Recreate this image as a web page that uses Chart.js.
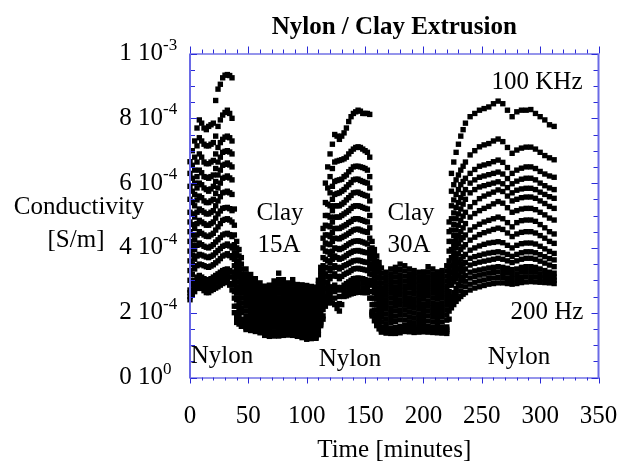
<!DOCTYPE html>
<html>
<head>
<meta charset="utf-8">
<style>
html, body { margin: 0; padding: 0; background: #fff; }
canvas { display: block; }
</style>
<script src="https://cdn.jsdelivr.net/npm/chart.js@4"></script>
</head>
<body>
<canvas id="cond-chart" width="619" height="463"></canvas>
<script>
// values are in units of 1e-6 S/m, one row per 40 minutes
const times = [
  0,4,8,12,16,20,24,28,32,36,
  40,44,48,52,56,60,64,68,72,76,
  80,84,88,92,96,100,104,108,112,116,
  120,124,128,132,136,140,144,148,152,156,
  160,164,168,172,176,180,184,188,192,196,
  200,204,208,212,216,220,224,228,232,236,
  240,244,248,252,256,260,264,268,272,276,
  280,284,288,292,296,300,304,308,312];

const s01 = [666,730,795,770,775,785,890,925,935,925,
  420,370,335,318,305,292,282,285,298,322,
  302,292,302,287,286,284,281,279,340,600,
  690,750,735,755,790,815,825,815,815,420,
  375,338,325,335,340,350,345,335,330,325,
  326,342,335,326,330,345,630,695,745,785,
  805,815,825,830,835,845,853,845,825,805,
  820,825,825,827,815,805,795,780,775];
const s02 = [630,680,740,720,715,725,775,810,825,800,
  400,350,320,303,292,280,270,274,284,302,
  290,280,288,275,274,272,269,267,328,540,
  620,665,670,675,690,705,712,705,695,400,
  358,322,311,320,325,333,329,320,315,311,
  312,326,320,312,316,329,575,610,640,665,
  687,700,712,718,722,730,736,728,710,692,
  702,708,711,711,705,695,685,678,672];
const s03 = [590,640,690,665,660,670,710,735,745,730,
  380,335,305,290,280,268,258,262,272,288,
  277,268,274,263,262,259,257,255,315,500,
  570,605,610,620,635,650,652,648,640,385,
  342,307,297,305,310,317,313,305,301,297,
  298,311,305,298,302,313,530,565,595,615,
  630,642,652,656,660,666,671,664,648,630,
  640,646,650,650,645,636,628,622,618];
const s04 = [550,600,640,620,615,625,665,695,700,690,
  360,320,290,277,267,257,247,250,259,274,
  264,256,261,251,249,247,245,243,302,470,
  530,565,570,580,595,610,612,605,600,365,
  325,292,283,290,295,302,298,290,287,283,
  284,296,290,284,287,298,490,525,555,580,
  600,610,618,622,626,630,634,628,614,598,
  606,612,615,615,610,600,592,585,580];
const s05 = [510,565,600,585,575,590,625,655,662,650,
  345,305,275,263,255,245,235,238,246,260,
  251,244,248,239,237,234,232,231,288,440,
  495,530,530,540,555,570,572,565,560,350,
  308,277,268,275,280,287,283,276,272,268,
  270,281,275,270,273,283,455,490,520,550,
  570,580,588,592,596,600,604,598,586,570,
  578,582,584,584,580,572,565,558,553];
const s06 = [480,530,560,545,540,550,585,615,622,610,
  330,290,262,250,242,233,223,226,233,246,
  238,232,235,227,225,222,220,219,275,415,
  465,495,495,505,515,528,530,525,520,335,
  292,262,254,260,265,271,268,261,258,254,
  256,266,260,256,259,268,420,455,485,510,
  527,540,552,560,566,572,579,574,560,545,
  550,555,557,557,553,545,537,528,522];
const s07 = [450,495,520,510,505,515,545,570,575,565,
  315,275,248,237,230,221,211,214,220,232,
  225,220,222,215,212,209,208,207,262,390,
  435,460,460,468,478,488,490,485,480,318,
  275,247,240,245,250,256,253,246,243,240,
  242,251,245,242,245,253,395,425,450,475,
  495,506,515,522,528,536,543,538,524,510,
  515,520,522,522,518,510,502,492,486];
const s08 = [420,460,485,475,470,480,505,522,525,515,
  295,260,234,223,217,210,200,202,207,218,
  212,208,209,203,200,197,195,195,248,365,
  410,430,428,436,445,455,458,452,448,300,
  258,231,225,230,235,240,238,231,228,225,
  227,235,230,227,230,238,370,400,425,440,
  455,465,473,480,485,490,495,490,478,465,
  478,484,486,486,482,472,462,450,443];
const s09 = [390,425,450,440,435,445,465,485,490,480,
  280,245,220,210,205,198,188,190,194,204,
  199,196,196,191,187,184,183,183,234,340,
  380,400,395,402,412,420,422,418,412,285,
  242,216,211,215,220,225,223,217,214,211,
  213,220,216,213,216,223,345,370,395,410,
  424,433,441,447,452,457,461,457,446,435,
  443,448,450,450,446,438,430,420,414];
const s10 = [360,395,415,405,400,410,425,440,445,435,
  260,230,205,197,192,186,176,178,181,190,
  186,184,183,179,175,172,171,171,220,320,
  355,375,365,372,382,390,392,388,385,265,
  225,201,196,200,205,209,208,202,199,196,
  199,205,202,199,201,208,325,345,365,380,
  393,400,406,411,415,417,419,416,408,400,
  408,413,415,415,412,405,397,389,383];
const s11 = [330,365,380,375,370,378,392,405,412,400,
  240,215,190,184,180,174,165,165,168,176,
  173,172,170,167,162,159,158,159,206,295,
  330,345,335,345,352,360,362,358,355,245,
  208,186,181,185,189,194,193,187,184,182,
  185,190,188,185,187,193,305,325,345,355,
  368,373,377,381,384,386,388,385,380,374,
  380,385,388,388,385,379,373,367,363];
const s12 = [300,335,350,345,340,348,360,375,382,370,
  220,200,178,171,167,162,153,153,155,161,
  160,159,157,154,150,147,146,147,192,275,
  305,320,305,318,325,335,337,334,330,225,
  192,171,166,170,173,178,177,172,169,168,
  170,174,172,170,171,177,285,305,325,335,
  347,352,356,359,362,365,368,365,360,355,
  360,365,368,368,365,359,353,347,342];
const s13 = [270,300,315,305,300,310,320,330,335,325,
  195,180,163,158,155,150,142,140,141,145,
  145,145,143,141,137,133,133,134,176,250,
  275,285,270,285,295,305,307,305,300,205,
  176,155,152,153,155,158,160,157,154,154,
  155,157,156,154,154,156,250,275,300,315,
  325,329,332,335,338,340,342,340,337,333,
  335,340,342,342,340,335,330,325,322];
const s14 = [262,290,305,295,288,298,308,318,322,310,
  187,172,158,153,150,146,138,136,136,139,
  140,140,139,136,132,128,128,130,171,240,
  262,265,250,273,282,290,293,291,287,200,
  171,150,147,148,149,152,154,152,149,149,
  150,151,150,149,148,149,238,262,283,297,
  307,312,316,319,322,324,326,324,322,318,
  320,325,327,327,325,320,316,312,310];
const s15 = [250,278,292,282,275,285,294,304,308,290,
  178,165,153,149,146,142,134,131,132,133,
  135,136,134,132,128,123,124,125,165,230,
  248,245,228,262,268,275,278,277,275,195,
  165,145,142,142,142,145,148,146,144,145,
  146,146,145,144,143,143,226,248,267,280,
  288,294,298,301,305,307,309,308,306,303,
  305,309,311,311,310,307,304,302,300];
const s16 = [240,265,280,268,262,272,280,290,295,270,
  170,158,148,145,142,138,130,127,128,128,
  130,131,130,127,123,118,120,121,160,220,
  235,225,205,250,255,260,263,262,262,190,
  160,140,137,136,136,138,142,141,139,140,
  141,140,139,138,137,136,215,235,250,262,
  270,276,280,284,288,290,292,292,290,288,
  290,293,295,296,295,294,293,292,290];

// readings between the rows above, where the curves move quickly
const timesMid = [2,6,10,14,18,22,26,30,34,38,42,
  110,114,118,122,126,130,134,138,142,146,150,154,158,162,
  222,226,230,234];

const m01 = [700,770,785,765,780,855,905,933,932,520,395, 300,460,650,720,745,745,770,805,820,822,815,812,395,355, 480,665,720,765];
const m02 = [655,715,730,715,720,745,795,818,815,470,375, 288,430,585,645,668,672,680,698,710,710,700,680,380,340, 450,595,625,652];
const m03 = [615,665,680,660,665,690,725,742,740,440,358, 275,400,535,590,608,612,625,642,652,650,645,620,362,325, 420,548,580,605];
const m04 = [575,620,632,618,620,645,680,698,696,410,340, 262,370,500,550,568,575,588,602,612,608,602,585,345,308, 390,508,540,568];
const m05 = [540,585,595,580,582,605,640,658,656,385,325, 248,345,468,515,530,535,548,562,571,568,562,545,330,292, 360,472,505,535];
const m06 = [505,548,555,540,545,568,600,618,616,365,310, 235,325,440,480,495,500,510,522,530,528,522,500,315,277, 340,438,470,498];
const m07 = [472,510,515,505,510,530,558,572,570,345,295, 222,305,412,448,460,464,472,482,490,487,482,462,296,261, 320,410,438,462];
const m08 = [440,475,480,470,475,492,514,524,521,325,278, 210,285,388,420,429,432,440,450,457,455,450,430,280,245, 300,385,412,432];
const m09 = [408,440,445,436,440,455,475,488,486,305,262, 196,265,360,390,398,398,407,416,421,420,415,395,263,229, 285,358,382,403];
const m10 = [378,408,410,402,405,418,432,443,441,285,245, 184,245,338,365,370,368,377,386,391,390,386,370,245,213, 265,335,355,373];
const m11 = [348,375,378,372,374,385,398,408,406,265,228, 171,225,312,338,340,340,348,356,361,360,356,340,226,197, 248,315,335,350];
const m12 = [318,345,348,342,344,354,367,378,376,245,210, 158,210,290,313,312,312,322,330,336,335,332,320,208,181, 230,295,315,330];
const m13 = [285,310,310,302,305,315,325,333,330,220,188, 145,190,262,280,278,278,290,300,306,306,302,290,190,165, 205,262,288,308];
const m14 = [255,275,275,262,268,276,285,293,285,200,165, 132,180,230,230,213,225,252,258,262,263,262,245,175,150, 180,225,243,257];

const seriesList = [s01,s02,s03,s04,s05,s06,s07,s08,s09,s10,s11,s12,s13,s14,s15,s16];
const midList = [m01,m02,m03,m04,m05,m06,m07,m08,m09,m10,m11,m12,m13,m14];

const yTickMant = ['0','2','4','6','8','1'];
const yTickExp = ['0','-4','-4','-4','-4','-3'];

const serif = '"Liberation Serif", "Times New Roman", serif';
const axisBlue = '#2a2ad8';
const sideBlue = '#6a6ae6';

// frame, ticks, exponents and the text written on the plot
const extras = {
  id: 'extras',
  afterDraw(chart) {
    const c = chart.ctx, a = chart.chartArea;
    const x = chart.scales.x, y = chart.scales.y;
    c.save();
    c.lineWidth = 1;
    c.strokeStyle = axisBlue;
    c.beginPath();
    for (let m = 0; m <= 350; m += 10) {
      const px = Math.round(x.getPixelForValue(m)) + 0.5;
      const len = m % 50 === 0 ? 7 : 4;
      c.moveTo(px, a.top); c.lineTo(px, a.top - len);
      c.moveTo(px, a.bottom); c.lineTo(px, a.bottom + len - 1);
    }
    for (let v = 0; v <= 1000; v += 50) {
      const py = Math.round(y.getPixelForValue(v)) + 0.5;
      const len = v % 200 === 0 ? 7 : 5;
      c.moveTo(a.left, py); c.lineTo(a.left + len, py);
      c.moveTo(a.right, py); c.lineTo(a.right - len, py);
    }
    c.moveTo(a.left, a.top + 0.5); c.lineTo(a.right, a.top + 0.5);
    c.moveTo(a.left, a.bottom + 0.5); c.lineTo(a.right, a.bottom + 0.5);
    c.stroke();
    c.lineWidth = 2;
    c.strokeStyle = sideBlue;
    c.beginPath();
    c.moveTo(a.left, a.top); c.lineTo(a.left, a.bottom + 1);
    c.moveTo(a.right, a.top); c.lineTo(a.right, a.bottom + 1);
    c.stroke();

    c.fillStyle = '#000';
    c.textBaseline = 'alphabetic';
    c.textAlign = 'left';
    c.font = '17px ' + serif;
    yTickExp.forEach((e, i) => {
      c.fillText(e, 163, y.getPixelForValue(i * 200) - 4);
    });
    c.font = '25px ' + serif;
    c.textAlign = 'center';
    c.fillText('Conductivity', 79, 214);
    c.fillText('[S/m]', 76, 247);
    c.fillText('Clay', 280, 220);
    c.fillText('15A', 279, 252);
    c.fillText('Clay', 411, 220);
    c.fillText('30A', 409, 252);
    c.fillText('100 KHz', 537, 89);
    c.fillText('200 Hz', 547, 319);
    c.fillText('Nylon', 222, 363);
    c.fillText('Nylon', 350, 366);
    c.fillText('Nylon', 519, 364);
    c.restore();
  }
};

new Chart(document.getElementById('cond-chart'), {
  type: 'scatter',
  plugins: [extras],
  data: {
    datasets: seriesList.map((vals, i) => ({
      label: 'series ' + (i + 1),
      data: vals.map((v, k) => ({ x: times[k], y: v }))
        .concat((midList[i] || []).map((v, k) => ({ x: timesMid[k], y: v }))),
      clip: false,
      showLine: false,
      pointStyle: 'rect',
      pointRadius: 3.8,
      pointBorderWidth: 0,
      pointBackgroundColor: '#000'
    }))
  },
  options: {
    responsive: false,
    animation: false,
    layout: { padding: { top: 13, right: 20.5, bottom: 0, left: 0 } },
    plugins: {
      legend: { display: false },
      tooltip: { enabled: false },
      title: {
        display: true,
        text: 'Nylon / Clay Extrusion',
        fullSize: false,
        color: '#000',
        font: { family: serif, size: 25, weight: 'bold' },
        padding: { top: 0, bottom: 10.5 }
      }
    },
    scales: {
      x: {
        type: 'linear',
        min: 0,
        max: 350,
        afterFit(s) { s.height = 85.5; s.paddingRight = 0; s.paddingLeft = 0; },
        grid: { display: false },
        border: { display: false },
        ticks: { stepSize: 50, padding: 16, maxRotation: 0, color: '#000', font: { family: serif, size: 25 } },
        title: { display: true, text: 'Time [minutes]', color: '#000', font: { family: serif, size: 25, lineHeight: 1 }, padding: { top: 0, bottom: 0 } }
      },
      y: {
        min: 0,
        max: 1000,
        afterFit(s) { s.width = 190; },
        grid: { display: false },
        border: { display: false },
        ticks: {
          stepSize: 200,
          padding: 19,
          color: '#000',
          font: { family: serif, size: 25 },
          callback(v) { return yTickMant[v / 200] + ' 10'; }
        }
      }
    }
  }
});
</script>
</body>
</html>
